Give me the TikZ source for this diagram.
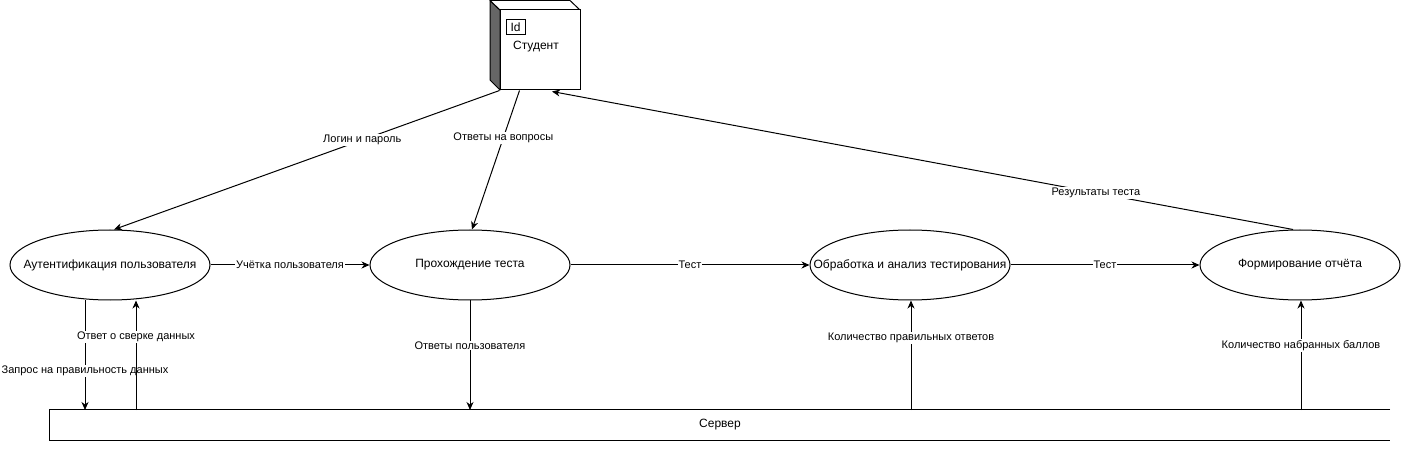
\documentclass[tikz,border=0pt]{standalone}
\usepackage{fontspec}
\setmainfont{Liberation Sans}
\usetikzlibrary{arrows.meta,shapes.geometric,calc}
\begin{document}
\begin{tikzpicture}[x=1pt,y=-1pt,
  every node/.style={font=\fontsize{11}{13}\selectfont},
  big/.style={font=\fontsize{12}{14}\selectfont},
  proc/.style={ellipse,draw,line width=1pt,minimum width=200pt,minimum height=70pt,inner sep=0pt,fill=white},
  arr/.style={line width=1pt,-{Stealth[length=8pt,width=7pt,inset=2.5pt]}},
  lbl/.style={fill=white,inner sep=1pt},
  edge1/.style={line width=1pt}]
\useasboundingbox (0,0) rectangle (1401,449);
% student cube
\fill[black!60] (490,0.5) -- (500,10) -- (500,90) -- (490,80) -- cycle;
\draw[edge1,line join=round] (490,0.5) -- (500,10) -- (500,90) -- (490,80) -- cycle;
\draw[edge1,fill=white,line join=round] (490,0.5) -- (570,0.5) -- (580,10) -- (500,10) -- cycle;
\node[draw,edge1,fill=white,minimum width=80pt,minimum height=80pt,inner sep=0pt] (student) at (540,50) {};
\node[draw,edge1,big,minimum width=19pt,minimum height=15pt,inner sep=0pt] (idbox) at (515.5,27.5) {Id};
\node[big] (studentlbl) at (536,47) {Студент};
% processes
\node[proc] (a1) at (110,265) {};
\node[proc] (a2) at (470,265) {};
\node[proc] (a3) at (910,265) {};
\node[proc] (a4) at (1300,265) {};
\node[big] (t1) at (a1) {Аутентификация пользователя};
\node[big] (t2) at (a2) {Прохождение теста};
\node[big] (t3) at (a3) {Обработка и анализ тестирования};
\node[big] (t4) at (a4) {Формирование отчёта};
% server
\node[big,minimum width=1340pt,minimum height=30pt,inner sep=0pt] (srv) at (720,425) {Сервер};
\draw[edge1] (srv.north east) -- (srv.north west) -- (srv.south west) -- (srv.south east);
\coordinate (s1) at (85,410);
\coordinate (s2) at (136,410);
\coordinate (s3) at (470,410);
\coordinate (s4) at (911,410);
\coordinate (s5) at (1301,410);
% flows
\draw[arr] (student.south west) -- node[lbl,pos=.356]{Логин и пароль} ($(a1.north)+(4,0)$);
\draw[arr] ($(student.south west)+(20,0)$) -- node[lbl,pos=.34]{Ответы на вопросы} ($(a2.north)+(2,0)$);
\draw[arr] ($(a4.north)+(-7,0)$) -- node[lbl,pos=.266]{Результаты теста} ($(student.south)+(12,1)$);
\draw[arr] (a1) -- node[lbl]{Учётка пользователя} (a2);
\draw[arr] (a2) -- node[lbl]{Тест} (a3);
\draw[arr] (a3) -- node[lbl]{Тест} (a4);
\draw[arr] (a1.south -| s1) -- node[lbl,pos=.64]{Запрос на правильность данных} (s1);
\draw[arr] (s2) -- node[lbl,pos=.67]{Ответ о сверке данных} (a1.south -| s2);
\draw[arr] (a2.south -| s3) -- node[lbl,pos=.41]{Ответы пользователя} (s3);
\draw[arr] (s4) -- node[lbl,pos=.66]{Количество правильных ответов} (a3.south -| s4);
\draw[arr] (s5) -- node[lbl,pos=.59]{Количество набранных баллов} (a4.south -| s5);
\end{tikzpicture}
\end{document}
